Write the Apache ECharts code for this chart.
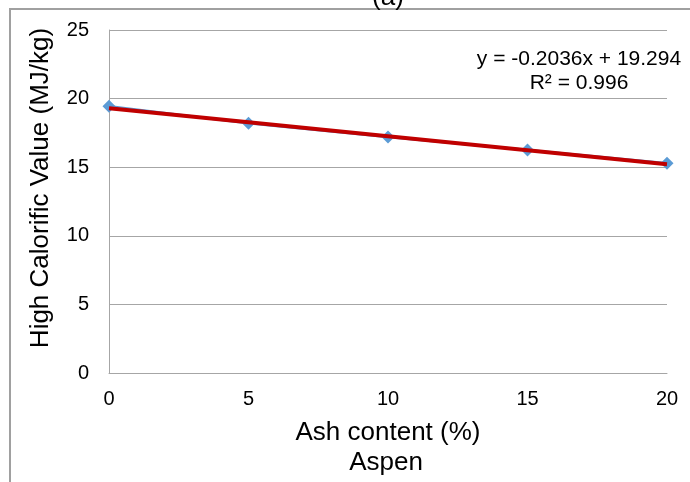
<!DOCTYPE html>
<html>
<head>
<meta charset="utf-8">
<script src="https://cdn.jsdelivr.net/npm/echarts@6/dist/echarts.min.js"></script>
<style>
  html, body { margin: 0; padding: 0; background: #fff; }
  #chart { width: 690px; height: 482px; }
</style>
</head>
<body>
<div id="chart"></div>
<script>
// ash content (%) and measured HHV for aspen
var ashContent = [0, 5, 10, 15, 20];
var hhvValues = [19.45, 18.2, 17.2, 16.25, 15.28];
// linear trend as printed on the chart
var trendSlope = -0.2036;
var trendIntercept = 19.294;
var trendText = ['y = -0.2036x + 19.294', 'R² = 0.996'];

var pointData = [];
for (var i = 0; i < ashContent.length; i++) {
  pointData.push([ashContent[i], hhvValues[i]]);
}
var xFirst = ashContent[0], xLast = ashContent[ashContent.length - 1];
var trendData = [
  [xFirst, trendIntercept + trendSlope * xFirst],
  [xLast, trendIntercept + trendSlope * xLast]
];

var chart = echarts.init(document.getElementById('chart'));
var font = 'Liberation Sans, Arial, sans-serif';

chart.setOption({
  animation: false,
  grid: { left: 109, right: 23, top: 30, bottom: 109 },
  xAxis: {
    type: 'value', min: 0, max: 20, interval: 5,
    name: 'Ash content (%)', nameLocation: 'middle', nameGap: 47,
    nameTextStyle: { fontFamily: font, fontSize: 26, color: '#000' },
    axisLine: { show: true, lineStyle: { color: '#a6a6a6', width: 1 } },
    axisTick: { show: false },
    splitLine: { show: false },
    axisLabel: { fontFamily: font, fontSize: 20, color: '#000', margin: 16 }
  },
  yAxis: {
    type: 'value', min: 0, max: 25, interval: 5,
    axisLine: { show: true, lineStyle: { color: '#a6a6a6', width: 1 } },
    axisTick: { show: false },
    splitLine: { show: true, lineStyle: { color: '#a6a6a6', width: 1 } },
    axisLabel: { fontFamily: font, fontSize: 20, color: '#000', margin: 20 }
  },
  graphic: [
    { type: 'rect', shape: { x: 10, y: 9, width: 720, height: 520 },
      style: { fill: 'none', stroke: '#a0a0a0', lineWidth: 2 }, silent: true },
    { type: 'text', x: 388, y: -2,
      style: { text: '(a)', font: '26px ' + font, fill: '#000', textAlign: 'center', textVerticalAlign: 'middle' } },
    { type: 'text', x: 41, y: 188, rotation: Math.PI / 2,
      style: { text: 'High Calorific Value (MJ/kg)', font: '26px ' + font, fill: '#000', textAlign: 'center', textVerticalAlign: 'middle' } },
    { type: 'text', x: 386, y: 463,
      style: { text: 'Aspen', font: '26px ' + font, fill: '#000', textAlign: 'center', textVerticalAlign: 'middle' } },
    { type: 'text', x: 579, y: 59,
      style: { text: trendText[0], font: '21px ' + font, fill: '#000', textAlign: 'center', textVerticalAlign: 'middle' } },
    { type: 'text', x: 579, y: 83,
      style: { text: trendText[1], font: '21px ' + font, fill: '#000', textAlign: 'center', textVerticalAlign: 'middle' } }
  ],
  series: [
    {
      type: 'line', data: pointData,
      symbol: 'diamond', symbolSize: 13,
      itemStyle: { color: '#5b9bd5' },
      lineStyle: { color: '#5b9bd5', width: 2.5 },
      z: 2
    },
    {
      type: 'line', data: trendData,
      symbol: 'none',
      lineStyle: { color: '#c00000', width: 4 },
      z: 3
    }
  ]
});
</script>
</body>
</html>
